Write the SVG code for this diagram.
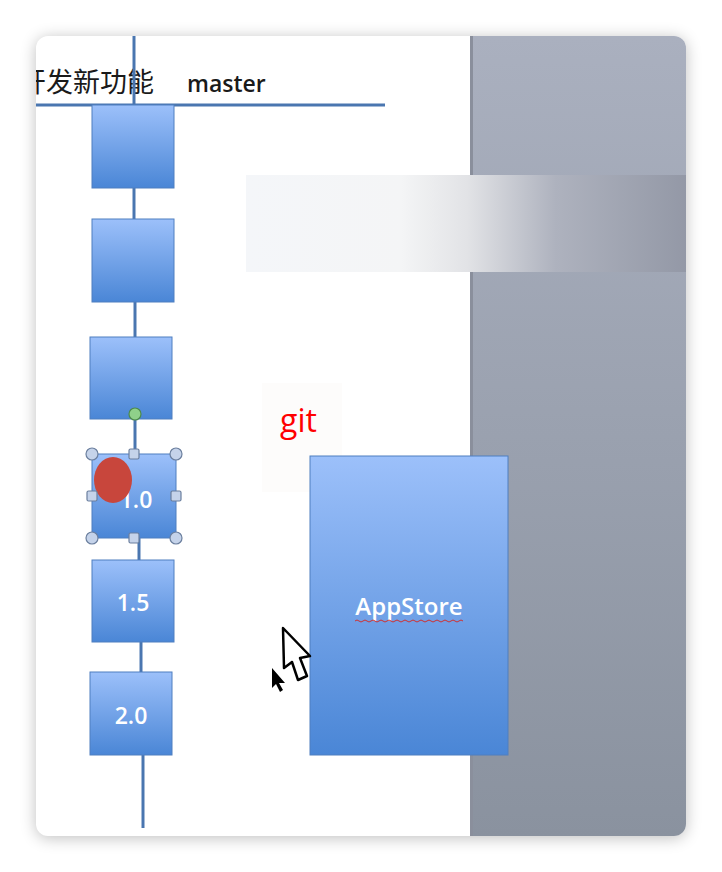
<svg xmlns="http://www.w3.org/2000/svg" width="722" height="872" viewBox="0 0 722 872">
<defs>
<linearGradient id="box" x1="0" y1="0" x2="0" y2="1"><stop offset="0" stop-color="#9cc0fa"/><stop offset="1" stop-color="#4a86d6"/></linearGradient>
<linearGradient id="panel" x1="0" y1="0" x2="0" y2="1"><stop offset="0" stop-color="#aab0bf"/><stop offset="1" stop-color="#8a929f"/></linearGradient>
<linearGradient id="band" x1="0" y1="0" x2="1" y2="0"><stop offset="0" stop-color="#f4f6f9"/><stop offset="0.35" stop-color="#f4f5f6"/><stop offset="0.5" stop-color="#e2e3e6"/><stop offset="0.7" stop-color="#aeb2be"/><stop offset="1" stop-color="#9398a6"/></linearGradient>
<filter id="shadow" x="-10%" y="-10%" width="120%" height="120%"><feGaussianBlur stdDeviation="8"/></filter>
<clipPath id="win"><rect x="36" y="36" width="650" height="800" rx="12"/></clipPath>
<style>
.box{fill:url(#box);stroke:#4f7fc0;stroke-width:1}
.ln{stroke:#4a76b0;stroke-width:3;fill:none}
.lbl{font-family:"Open Sans","Liberation Sans",sans-serif;font-weight:600;font-size:23px;fill:#ffffff;text-anchor:middle}
.hc{fill:#c5d3ea;stroke:#6b7f9e;stroke-width:1.2}
</style>
</defs>
<rect width="722" height="872" fill="#ffffff"/>
<rect x="36" y="38" width="650" height="800" rx="12" fill="#000" opacity="0.25" filter="url(#shadow)"/>
<g clip-path="url(#win)">
<rect x="36" y="36" width="650" height="800" fill="#ffffff"/>
<rect x="470" y="36" width="216" height="800" fill="url(#panel)"/>
<rect x="470" y="36" width="3" height="800" fill="#8a8f9c"/>
<rect x="246" y="175" width="442" height="97" fill="url(#band)"/>
<rect x="262" y="383" width="80" height="109" fill="#fdfcfb"/>
<text x="19" y="92" font-family="'Noto Sans CJK SC',sans-serif" font-size="27" fill="#1a1a1a">开发新功能</text>
<text x="187" y="92" font-family="'Open Sans','Liberation Sans',sans-serif" font-size="23" font-weight="600" fill="#1a1a1a">master</text>
</g>
<g id="connectors">
<line class="ln" x1="134" y1="36" x2="134" y2="105"/>
<line class="ln" x1="36" y1="105" x2="385" y2="105"/>
<line class="ln" x1="134" y1="188" x2="134" y2="219"/>
<line class="ln" x1="135" y1="302" x2="135" y2="337"/>
<line class="ln" x1="135" y1="414" x2="135" y2="454"/>
<line class="ln" x1="139" y1="538" x2="139" y2="560"/>
<line class="ln" x1="141" y1="642" x2="141" y2="672"/>
<line class="ln" x1="143" y1="755" x2="143" y2="828"/>
</g>
<g id="node1"><rect class="box" x="92" y="105" width="82" height="83"/></g>
<g id="node2"><rect class="box" x="92" y="219" width="82" height="83"/></g>
<g id="node3"><rect class="box" x="90" y="337" width="82" height="82"/></g>
<g id="node4">
<rect class="box" x="92" y="454" width="84" height="84"/>
<text class="lbl" x="136" y="508">1.0</text>
<ellipse cx="113" cy="480" rx="19" ry="23" fill="#c8463c"/>
<circle cx="135" cy="414" r="6" fill="#8fd08a" stroke="#4d8a4a" stroke-width="1.2"/>
<circle class="hc" cx="92" cy="454" r="6"/>
<circle class="hc" cx="176" cy="454" r="6"/>
<circle class="hc" cx="92" cy="538" r="6"/>
<circle class="hc" cx="176" cy="538" r="6"/>
<rect class="hc" x="129" y="449" width="10" height="10" rx="1.5"/>
<rect class="hc" x="129" y="533" width="10" height="10" rx="1.5"/>
<rect class="hc" x="87" y="491" width="10" height="10" rx="1.5"/>
<rect class="hc" x="171" y="491" width="10" height="10" rx="1.5"/>
</g>
<g id="node5"><rect class="box" x="92" y="560" width="82" height="82"/><text class="lbl" x="133" y="611">1.5</text></g>
<g id="node6"><rect class="box" x="90" y="672" width="82" height="83"/><text class="lbl" x="131" y="724">2.0</text></g>
<g id="git"><text x="280" y="432" font-family="'Open Sans','Liberation Sans',sans-serif" font-size="32" fill="#ff0000">git</text></g>
<g id="appstore">
<rect class="box" x="310" y="456" width="198" height="299"/>
<text class="lbl" x="409" y="615" style="font-size:24px">AppStore</text>
<path d="M355 621 q2 -2 4 0 t4 0 t4 0 t4 0 t4 0 t4 0 t4 0 t4 0 t4 0 t4 0 t4 0 t4 0 t4 0 t4 0 t4 0 t4 0 t4 0 t4 0 t4 0 t4 0 t4 0 t4 0 t4 0 t4 0 t4 0 t4 0 t4 0" fill="none" stroke="#d03030" stroke-width="1"/>
</g>
<g id="cursors">
<path d="M283 628 L310 656 L300 658 L307 676 L298 680 L292 662 L284 668 Z" fill="#ffffff" stroke="#000000" stroke-width="2.5" stroke-linejoin="round"/>
<path d="M272 668 L272 688 L276 684 L280 692 L283 690 L279 683 L285 683 Z" fill="#000000"/>
</g>
</svg>
